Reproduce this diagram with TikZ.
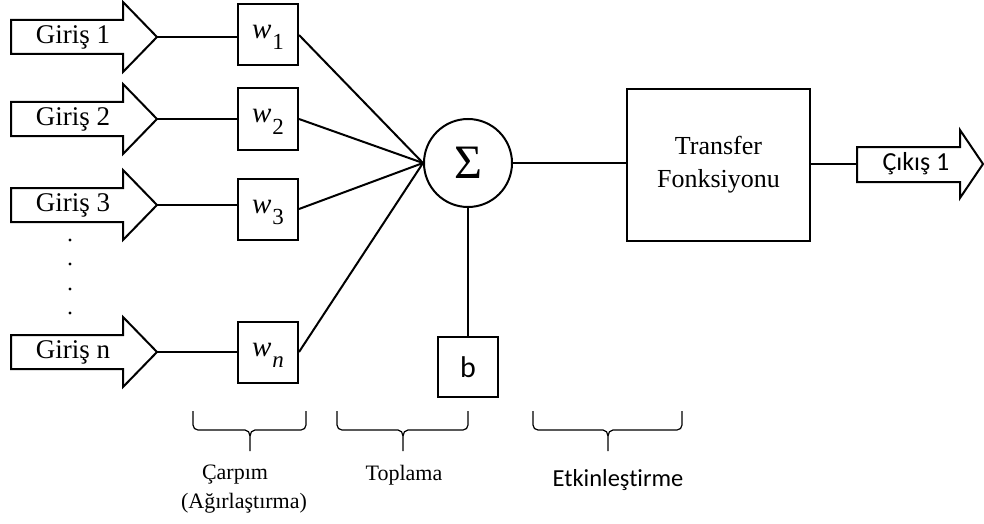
\documentclass[tikz,border=0pt]{standalone}
\usepackage{fontspec}
\setmainfont{Liberation Serif}
\newfontfamily\calib[Ligatures=NoCommon]{Carlito}
% weight symbol: italic w with a lowered index, baseline fixed at the node centre
\newcommand\wsub[1]{\smash{\raisebox{-4pt}{\textit{w}}\kern1pt\raisebox{-15pt}{\fontsize{23}{23}\selectfont #1}}}
\begin{document}
\begin{tikzpicture}[x=1pt,y=-1pt,
  line/.style={line width=2pt},
  outline/.style={line width=2pt,line join=miter},
  wbox/.style={draw,line width=2pt,minimum width=60pt,minimum height=61pt,inner sep=0pt,font=\fontsize{29}{29}\selectfont},
  gtext/.style={font=\fontsize{27}{27}\selectfont,inner sep=0pt},
  brace/.style={line width=1.2pt},
  lbl/.style={font=\fontsize{22}{22}\selectfont,inner sep=0pt},
  dot/.style={circle,fill,inner sep=0pt,minimum size=3.4pt}]
\useasboundingbox (0,0) rectangle (984,524);

% input arrows with their labels
\foreach \y/\t/\n in {37/1/1,119/2/2,205/3/3,352/n/n}{
  \draw[outline] (11,\y-17) -- (123,\y-17) -- (123,\y-35) -- (157,\y)
    -- (123,\y+35) -- (123,\y+17) -- (11,\y+17) -- cycle;
  \node[gtext] (g\n) at (73,\y) {Giriş \t};
  \coordinate (t\n) at (157,\y);
}

% dots between the third and the last input
\foreach \y [count=\i] in {240,264,289,313}
  \node[dot] (d\i) at (70,\y) {};

% weights
\node[wbox] (w1) at (268,35)  {\wsub{1}};
\node[wbox] (w2) at (268,119) {\wsub{2}};
\node[wbox] (w3) at (268,209) {\wsub{3}};
\node[wbox] (wn) at (268,352) {\wsub{\textit{n}}};

% summation, bias and transfer function
\node[draw,circle,line width=2pt,minimum size=88pt,inner sep=0pt,
  font=\fontsize{48}{48}\selectfont] (sum) at (468,163) {Σ};
\node[draw,line width=2pt,minimum width=60pt,minimum height=60pt,inner sep=0pt,
  font=\calib\fontsize{30}{30}\selectfont] (b) at (468,367) {b};
\node[draw,line width=2pt,minimum width=183pt,minimum height=152pt,
  align=center,font=\fontsize{26}{33}\selectfont] (tf) at (718.5,165) {Transfer\\Fonksiyonu};

% output arrow
\draw[outline] (857,147) -- (960,147) -- (960,130) -- (983,164)
  -- (960,198) -- (960,182) -- (857,182) -- cycle;
\coordinate (out) at (857,164);
\node[font=\calib\fontsize{26}{26}\selectfont,inner sep=0pt] (c1) at (916,164) {Çıkış 1};

% connectors
\foreach \n in {1,2,3,n}{
  \draw[line] (t\n) -- (t\n -| w\n.west);
  \draw[line] (w\n.east) -- (sum.west);
}
\draw[line] (sum.south) -- (b.north);
\draw[line] (sum.east) -- (sum.east -| tf.west);
\draw[line] (tf.east |- out) -- (out);

% braces under the three stages
\foreach \a/\m/\b in {193/250/306,337/403/468,533/608/682}{
  \draw[brace] (\a,411) -- (\a,425) to[out=-90,in=180] (\a+5,430)
    -- (\m-5,430) to[out=0,in=90] (\m,436) -- (\m,451);
  \draw[brace] (\b,411) -- (\b,425) to[out=-90,in=0] (\b-5,430)
    -- (\m+5,430) to[out=180,in=90] (\m,436);
}

% stage labels
\node[lbl] (l1) at (235,475) {Çarpım};
\node[lbl] (l2) at (244,503) {(Ağırlaştırma)};
\node[lbl] (l3) at (404,475) {Toplama};
\node[font=\calib\fontsize{24.5}{24.5}\selectfont,inner sep=0pt] (l4) at (618,480) {Etkinleştirme};
\end{tikzpicture}
\end{document}
